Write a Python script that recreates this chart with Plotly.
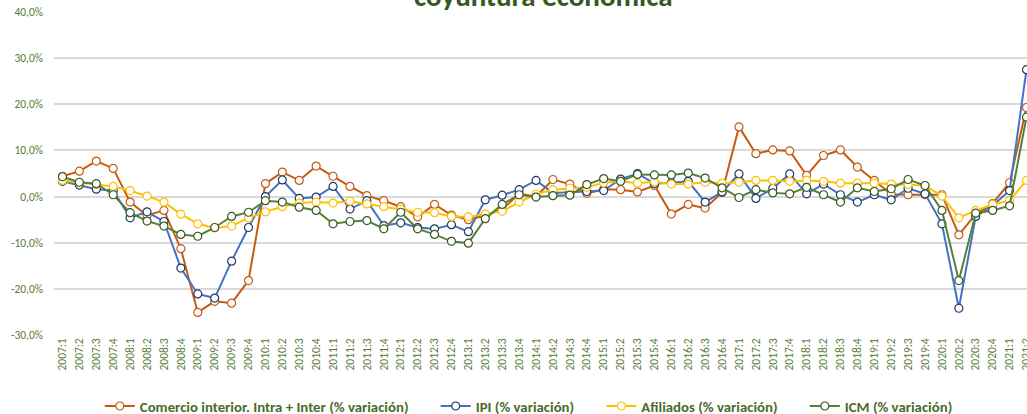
import plotly.graph_objects as go

quarters = [f"{y}:{q}" for y in range(2007, 2022) for q in range(1, 5)][:58]

comercio = [4.4, 5.5, 7.7, 6.1, -1.2, -4.1, -3.0, -11.3, -25.1, -22.7, -23.1, -18.2,
            2.8, 5.3, 3.5, 6.6, 4.4, 2.2, 0.2, -0.9, -2.2, -4.4, -1.7, -4.0,
            -5.0, -4.1, -2.8, 0.6, 0.0, 3.7, 2.7, 0.7, 1.6, 1.5, 1.0, 2.4,
            -3.8, -1.7, -2.5, 0.9, 15.1, 9.3, 10.1, 9.9, 4.6, 8.9, 10.1, 6.4,
            3.5, 0.5, 0.4, 0.4, 0.4, -8.3, -3.8, -1.5, 3.0, 19.3]

ipi = [3.3, 2.5, 1.6, 1.3, -4.6, -3.3, -5.4, -15.5, -21.1, -22.0, -14.0, -6.7,
       0.0, 3.6, -0.4, -0.1, 2.2, -2.7, -0.9, -6.3, -5.7, -6.7, -7.0, -6.1,
       -7.6, -0.7, 0.3, 1.5, 3.5, 0.8, 0.9, 1.1, 1.3, 3.8, 5.0, 2.8,
       3.0, 3.3, -1.2, 1.0, 4.9, -0.4, 1.8, 4.9, 0.6, 2.7, 0.4, -1.2,
       0.4, -0.7, 1.8, 0.6, -5.9, -24.2, -4.3, -2.0, 1.3, 27.5]

afiliados = [3.5, 3.0, 2.6, 2.2, 1.3, 0.1, -1.2, -3.8, -5.9, -6.8, -6.4, -4.6,
             -3.3, -2.2, -1.4, -1.2, -1.4, -1.0, -1.6, -2.2, -2.7, -3.4, -3.5, -4.3,
             -4.4, -3.8, -3.2, -1.2, 0.5, 1.5, 1.8, 2.0, 3.0, 3.3, 2.9, 3.2,
             2.7, 2.7, 3.1, 2.9, 3.1, 3.5, 3.5, 3.3, 3.5, 3.3, 2.9, 2.9,
             2.9, 2.7, 2.6, 2.4, 0.1, -4.6, -3.0, -1.7, -0.9, 3.5]

icm = [4.3, 3.1, 2.8, 0.4, -3.5, -5.3, -6.4, -8.2, -8.6, -6.7, -4.3, -3.4,
       -0.9, -1.2, -2.3, -3.0, -5.9, -5.4, -5.2, -7.0, -3.4, -7.0, -8.2, -9.7,
       -10.1, -4.8, -1.7, 0.4, -0.1, 0.2, 0.3, 2.6, 3.9, 3.3, 4.8, 4.7,
       4.7, 5.1, 4.0, 1.9, -0.2, 1.5, 0.8, 0.6, 2.0, 0.4, -1.2, 1.9,
       1.1, 1.7, 3.7, 2.4, -3.0, -18.2, -3.6, -3.0, -2.0, 17.2]

series_names = ["Comercio interior. Intra + Inter (% variación)", "IPI (% variación)",
                "Afiliados (% variación)", "ICM (% variación)"]
y_ticks = [-30, -20, -10, 0, 10, 20, 30, 40]
y_ticktext = [f"{v:.1f}".replace(".", ",") + "%" for v in y_ticks]

line_colors = ["#C55A11", "#4472C4", "#FFC000", "#548235"]
marker_edges = ["#C55A11", "#203864", "#FFC000", "#385723"]

FONT = "Carlito, Lato, sans-serif"
PAD = "\u2002\u2002\u2002"

fig = go.Figure()
for i, (name, vals, lc, mc) in enumerate(zip(series_names, [comercio, ipi, afiliados, icm],
                                             line_colors, marker_edges)):
    label = name + (PAD if i < len(series_names) - 1 else "")
    fig.add_trace(go.Scatter(
        x=quarters, y=vals, name=label, mode="lines+markers",
        line=dict(color=lc, width=2),
        marker=dict(symbol="circle", size=8, color="white", line=dict(color=mc, width=1.2)),
        cliponaxis=False,
    ))

fig.update_layout(
    width=1027, height=414,
    margin=dict(l=53.5, r=0, t=12, b=79, autoexpand=False),
    plot_bgcolor="white", paper_bgcolor="white",
    font=dict(family=FONT, color="#5B7A3A", size=12),
    showlegend=True,
    legend=dict(orientation="h", x=0.488, xanchor="center", y=-0.221, yanchor="middle",
                font=dict(family=FONT, size=14.8, color="#4A6B2A", weight="bold"),
                itemwidth=30, traceorder="normal"),
    xaxis=dict(type="category", range=[-0.5, 57.03], tickangle=-90, showgrid=False,
               showline=False, ticks="", tickfont=dict(size=11.5, color="#5B7A3A"),
               zeroline=False, automargin=False),
    yaxis=dict(range=[-30, 40], tickvals=y_ticks, ticktext=y_ticktext,
               showgrid=True, gridcolor="#D9D9D9", gridwidth=1.5, zeroline=False,
               showline=False, ticks="", ticklabelstandoff=10, automargin=False,
               tickfont=dict(size=11.5, color="#5B7A3A")),
    annotations=[dict(text="<b>coyuntura económica</b>", xref="paper", yref="paper",
                      x=0.503, y=1.051, xanchor="center", yanchor="middle", showarrow=False,
                      font=dict(family=FONT, size=29, color="#385723"))],
)

fig.write_html("out.html", config={"displayModeBar": False},
               post_script="document.body.style.margin='0px';")
